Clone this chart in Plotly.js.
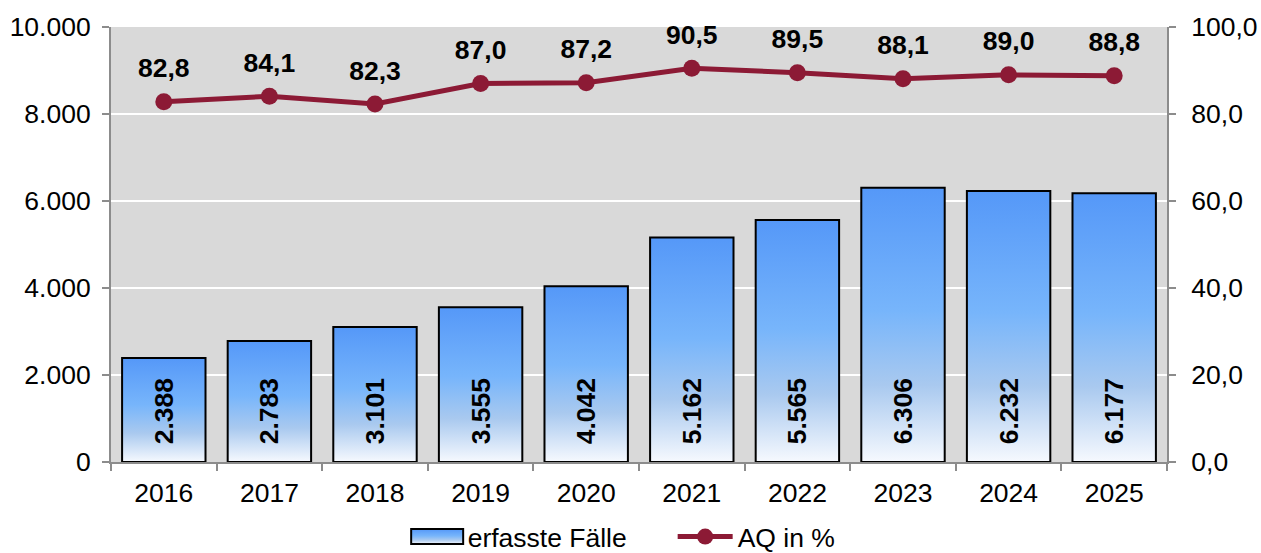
<!DOCTYPE html>
<html>
<head>
<meta charset="utf-8">
<script src="https://cdn.plot.ly/plotly-3.0.1.min.js"></script>
<style>html,body{margin:0;padding:0;background:#fff;}#chart{width:1261px;height:553px;}</style>
</head>
<body>
<div id="chart"></div>
<script>
const years = ['2016','2017','2018','2019','2020','2021','2022','2023','2024','2025'];
const faelle = [2388, 2783, 3101, 3555, 4042, 5162, 5565, 6306, 6232, 6177];
const aq = [82.8, 84.1, 82.3, 87.0, 87.2, 90.5, 89.5, 88.1, 89.0, 88.8];
const seriesNames = ['erfasste Fälle', 'AQ in %'];

const FONT = 'Liberation Sans, Arial, sans-serif';
const FS = 26.5;
const NB = '\u00A0\u00A0';

const traces = [
  {
    type: 'bar', x: years, y: faelle, name: seriesNames[0],
    marker: {color: '#77b0f8', line: {color: '#000', width: 2}},
    texttemplate: NB + '%{y:,}', textposition: 'inside',
    insidetextanchor: 'start', textangle: -90,
    textfont: {family: FONT, size: FS, color: '#000', weight: 'bold'},
    constraintext: 'none',
    cliponaxis: false, hoverinfo: 'skip'
  },
  {
    type: 'scatter', mode: 'lines+markers', x: years, y: aq, name: seriesNames[1], yaxis: 'y2',
    line: {color: '#8c1a35', width: 5},
    marker: {color: '#8c1a35', size: 17},
    cliponaxis: false, hoverinfo: 'skip'
  },
  {
    type: 'scatter', mode: 'markers+text', x: years, y: aq, yaxis: 'y2', showlegend: false,
    marker: {color: 'rgba(0,0,0,0)', size: 27},
    texttemplate: '%{y:.1f}', textposition: 'top center',
    textfont: {family: FONT, size: FS, color: '#000', weight: 'bold'},
    cliponaxis: false, hoverinfo: 'skip'
  }
];

const layout = {
  width: 1261, height: 553,
  margin: {l: 111, r: 94, t: 27, b: 91, autoexpand: false},
  paper_bgcolor: '#fff', plot_bgcolor: '#d9d9d9',
  separators: ',.',
  font: {family: FONT, size: FS, color: '#000'},
  bargap: 0.21,
  showlegend: true,
  legend: {orientation: 'h', x: 0.2762, xanchor: 'left', y: -0.117, yanchor: 'top',
           font: {family: FONT, size: FS, color: '#000'}, traceorder: 'normal', itemwidth: 55,
           entrywidth: 200, entrywidthmode: 'pixels',
           bgcolor: 'rgba(0,0,0,0)'},
  xaxis: {
    type: 'category', range: [-0.5, 9.5], autorange: false,
    showgrid: false, showline: true, linecolor: '#8c8c8c', linewidth: 2,
    ticks: 'outside', tickson: 'boundaries', ticklen: 7, tickcolor: '#8c8c8c', tickwidth: 2,
    ticklabelstandoff: 6,
    tickfont: {family: FONT, size: FS, color: '#000'}, zeroline: false
  },
  yaxis: {
    range: [0, 10000], dtick: 2000, tickformat: ',d',
    showgrid: true, gridcolor: '#ffffff', gridwidth: 2,
    showline: true, linecolor: '#8c8c8c', linewidth: 2,
    ticks: 'outside', ticklen: 7, tickcolor: '#8c8c8c', tickwidth: 2,
    ticklabelstandoff: 6,
    tickfont: {family: FONT, size: FS, color: '#000'}, zeroline: false
  },
  yaxis2: {
    overlaying: 'y', side: 'right', range: [0, 100], dtick: 20, tickformat: '.1f',
    showgrid: false, showline: true, linecolor: '#8c8c8c', linewidth: 2,
    ticks: 'outside', ticklen: 7, tickcolor: '#8c8c8c', tickwidth: 2,
    ticklabelstandoff: 10,
    tickfont: {family: FONT, size: FS, color: '#000'}, zeroline: false
  }
};

function applyGradient(gd){
  const svgNS = 'http://www.w3.org/2000/svg';
  const svg = gd.querySelector('svg.main-svg');
  if (!svg.querySelector('#bargrad')) {
    let defs = svg.querySelector('defs');
    if (!defs) { defs = document.createElementNS(svgNS, 'defs'); svg.insertBefore(defs, svg.firstChild); }
    const grad = document.createElementNS(svgNS, 'linearGradient');
    grad.setAttribute('id', 'bargrad');
    grad.setAttribute('x1', '0'); grad.setAttribute('y1', '0');
    grad.setAttribute('x2', '0'); grad.setAttribute('y2', '1');
    [['0', '#5598f8'], ['0.45', '#77b5fb'], ['0.72', '#a9c9ef'], ['1', '#f6f9fe']].forEach(function(s){
      const st = document.createElementNS(svgNS, 'stop');
      st.setAttribute('offset', s[0]); st.setAttribute('stop-color', s[1]);
      grad.appendChild(st);
    });
    defs.appendChild(grad);
  }
  gd.querySelectorAll('.trace.bars .point path').forEach(function(p){ p.style.fill = 'url(#bargrad)'; });
  const items = document.querySelectorAll('.legend .traces');
  if (items.length) {
    items[0].querySelectorAll('.legendpoints path').forEach(function(p){
      p.setAttribute('d', 'M-24,-7.5h52v15h-52z');
      p.style.fill = 'url(#bargrad)';
      p.style.stroke = '#000';
      p.style.strokeWidth = '2px';
    });
  }
}

Plotly.newPlot('chart', traces, layout, {displayModeBar: false, staticPlot: true}).then(function(gd){
  applyGradient(gd);
  setTimeout(function(){ applyGradient(gd); }, 50);
});
</script>
</body>
</html>
